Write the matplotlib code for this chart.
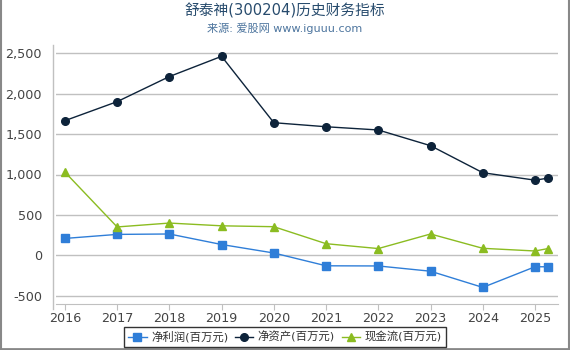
import matplotlib
matplotlib.use("Agg")
import matplotlib.pyplot as plt
from matplotlib.lines import Line2D
from matplotlib.ticker import FuncFormatter

plt.rcParams['font.family'] = ['DejaVu Sans', 'Noto Sans CJK SC']

x_pos = [2016, 2017, 2018, 2019, 2020, 2021, 2022, 2023, 2024, 2025, 2025.25]
years = [2016, 2017, 2018, 2019, 2020, 2021, 2022, 2023, 2024, 2025]
net_profit = [210, 260, 265, 135, 30, -128, -130, -195, -395, -140, -140]
net_assets = [1665, 1900, 2210, 2460, 1640, 1590, 1550, 1356, 1022, 930, 955]
cash_flow = [1030, 352, 400, 366, 355, 145, 85, 265, 88, 55, 85]

names = ['净利润(百万元)', '净资产(百万元)', '现金流(百万元)']
colors = ['#2f7ed8', '#0d233a', '#8bbc21']

W, H = 570, 350
fig = plt.figure(figsize=(5.7, 3.5), dpi=100)
ax = fig.add_axes([56/W, 1-304/H, (558-56)/W, (304-45)/H])

ax.plot(x_pos, net_profit, color=colors[0], marker='s', markersize=5.5, lw=1, label=names[0], zorder=3)
ax.plot(x_pos, net_assets, color=colors[1], marker='o', markersize=5.5, lw=1, label=names[1], zorder=3)
ax.plot(x_pos, cash_flow, color=colors[2], marker='^', markersize=6, lw=1, label=names[2], zorder=3)

ax.set_xlim(2015.83, 2025.44)
ax.set_ylim(-600, 2600)
ax.set_yticks([-500, 0, 500, 1000, 1500, 2000, 2500])
ax.yaxis.set_major_formatter(FuncFormatter(lambda v, p: f'{int(v):,}'))
ax.set_xticks(years)
ax.set_xticklabels([str(y) for y in years])

ax.grid(axis='y', color='#c0c0c0', lw=1)
ax.set_axisbelow(True)
for s in ['top', 'right', 'left']:
    ax.spines[s].set_visible(False)
ax.spines['bottom'].set_color('#c0c0c0')
ax.tick_params(axis='y', length=0, pad=10, labelsize=9.2, labelcolor='#444444')
ax.tick_params(axis='x', length=4, color='#c0c0c0', pad=2, labelsize=9.2, labelcolor='#444444')

# separate y axis line
fig.add_artist(Line2D([52.5/W, 52.5/W], [1-45/H, 1-309/H], color='#c0c0c0', lw=1,
                      transform=fig.transFigure))

fig.text(0.5, 1-11/H, '舒泰神(300204)历史财务指标', ha='center', va='center',
         fontsize=10.6, color='#274b6d')
fig.text(0.5, 1-28/H, '来源: 爱股网 www.iguuu.com', ha='center', va='center',
         fontsize=8, color='#4d759e')

leg = fig.legend(loc='center', bbox_to_anchor=(285/W, 1-337/H), ncol=3,
                 frameon=True, fontsize=8.2, handlelength=1.6, handletextpad=0.4,
                 columnspacing=0.6, borderpad=0.35, fancybox=False)
leg.get_frame().set_edgecolor('black')
leg.get_frame().set_linewidth(1)
for t in leg.get_texts():
    t.set_color('#333333')

# figure border (left, right, bottom)
bc = '#888888'
fig.add_artist(Line2D([1/W, 1/W], [0, 1], color=bc, lw=1.5, transform=fig.transFigure))
fig.add_artist(Line2D([568.5/W, 568.5/W], [0, 1], color=bc, lw=1.5, transform=fig.transFigure))
fig.add_artist(Line2D([0, 1], [1/H, 1/H], color=bc, lw=2, transform=fig.transFigure))

fig.savefig('out.png', dpi=100)
